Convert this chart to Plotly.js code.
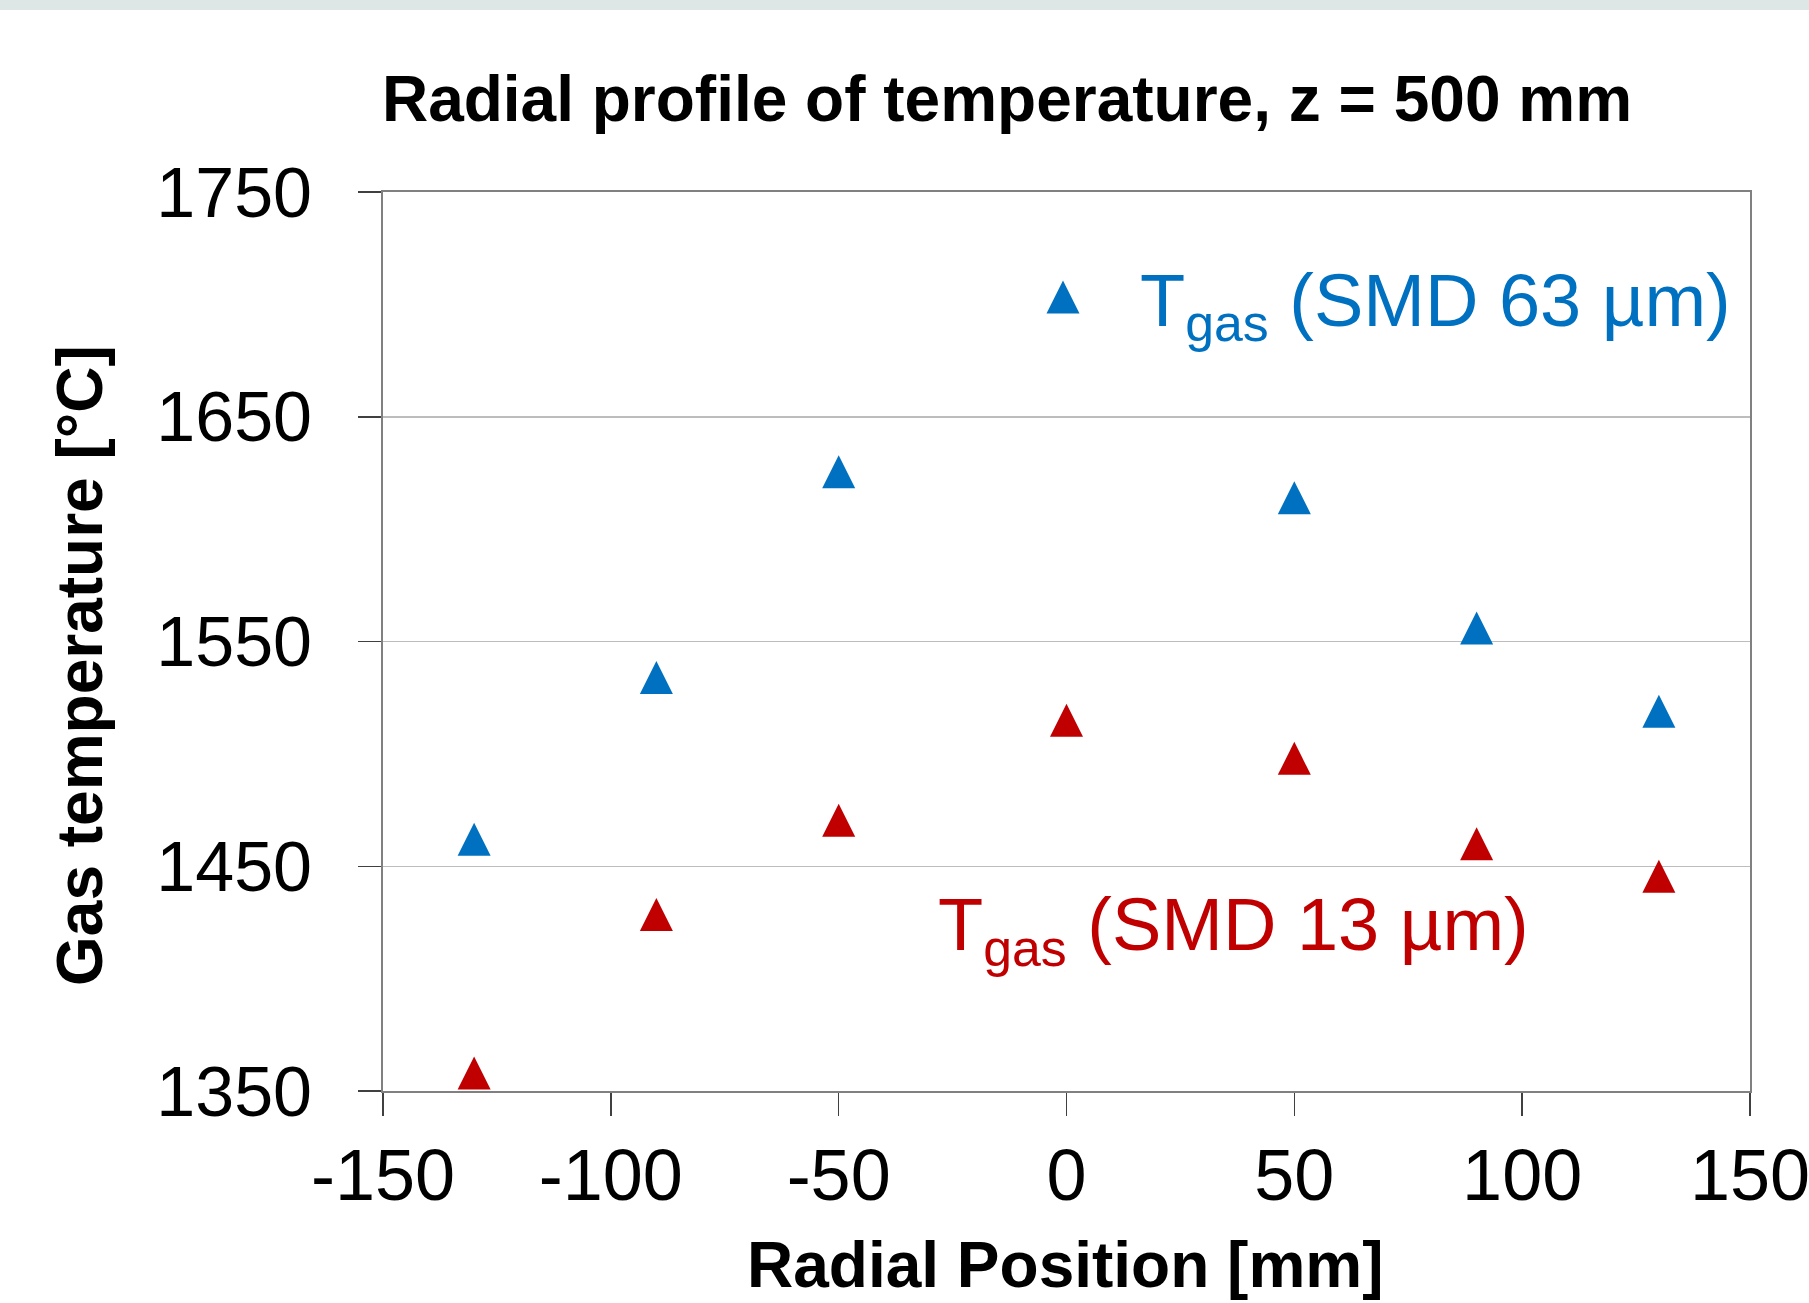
<!DOCTYPE html>
<html>
<head>
<meta charset="utf-8">
<script src="https://cdn.plot.ly/plotly-3.0.1.min.js"></script>
<style>
html,body{margin:0;padding:0;background:#fff;overflow:hidden}
#band{position:absolute;left:0;top:0;width:1809px;height:10px;background:#dde8e6;z-index:10}
#chart{width:1809px;height:1303px}
</style>
</head>
<body>
<div id="band"></div>
<div id="chart"></div>
<script>
// ---- data ----
const radialPos63 = [-130, -90, -50, 50, 90, 130];
const tempSMD63   = [1462, 1534, 1625.5, 1614, 1556, 1519];
const radialPos13 = [-130, -90, -50, 0, 50, 90, 130];
const tempSMD13   = [1358, 1428.5, 1470.5, 1515, 1498, 1460, 1445.5];
const xTickVals = [-150, -100, -50, 0, 50, 100, 150];
const xTickText = ['-150', '-100', '-50', '0', '50', '100', '150'];
const yTickVals = [1350, 1450, 1550, 1650, 1750];
const yTickText = ['1350', '1450', '1550', '1650', '1750'];
const label63 = 'T<sub>gas</sub> (SMD 63 µm)';
const label13 = 'T<sub>gas</sub> (SMD 13 µm)';
const chartTitle = 'Radial profile of temperature, z = 500 mm';
const xTitle = 'Radial Position [mm]';
const yTitle = 'Gas temperature [°C]';

const BLUE = '#0070c0', RED = '#c00000';
const FONT = 'Liberation Sans, Arial, sans-serif';

const traces = [
  {x: radialPos63, y: tempSMD63, type: 'scatter', mode: 'markers', name: label63,
   marker: {symbol: 'triangle-up', size: 28, color: BLUE}, showlegend: true},
  {x: radialPos13, y: tempSMD13, type: 'scatter', mode: 'markers', name: label13,
   marker: {symbol: 'triangle-up', size: 28, color: RED}, showlegend: false}
];

const W = 1809, H = 1303;
const mL = 383, mR = 59, mT = 191.5, mB = 211.5;
const pw = W - mL - mR, ph = H - mT - mB;
const px2x = p => (p - mL) / pw;
const px2y = p => (H - mB - p) / ph;

const layout = {
  width: W, height: H,
  margin: {l: mL, r: mR, t: mT, b: mB, pad: 0},
  paper_bgcolor: '#ffffff', plot_bgcolor: '#ffffff',
  font: {family: FONT, color: '#000'},
  title: {text: chartTitle, font: {family: FONT, size: 64, weight: 'bold', color: '#000'},
          xref: 'container', yref: 'container', x: 1007 / W, y: 1 - 99 / H,
          xanchor: 'center', yanchor: 'middle'},
  xaxis: {range: [-150, 150], tickmode: 'array', tickvals: xTickVals, ticktext: xTickText,
          ticks: 'outside', ticklen: 23, tickwidth: 1.5, tickcolor: '#404040',
          showline: true, linecolor: '#808080', linewidth: 2, mirror: true,
          showgrid: false, zeroline: false, ticklabelstandoff: -2,
          ticklabeloverflow: 'allow',
          tickfont: {family: FONT, size: 72, color: '#000'}},
  yaxis: {range: [1350, 1750], tickmode: 'array', tickvals: yTickVals, ticktext: yTickText,
          ticks: 'outside', ticklen: 23, tickwidth: 1.5, tickcolor: '#404040',
          showline: true, linecolor: '#808080', linewidth: 2, mirror: true,
          showgrid: true, gridcolor: '#bdbdbd', gridwidth: 1.5, zeroline: false,
          ticklabelstandoff: 32,
          tickfont: {family: FONT, size: 70, color: '#000'}},
  showlegend: true,
  legend: {x: px2x(986), y: px2y(242), xanchor: 'left', yanchor: 'top',
           bgcolor: 'rgba(0,0,0,0)', borderwidth: 0, itemwidth: 144,
           font: {family: FONT, size: 74, color: BLUE}},
  annotations: [
    {text: label13, xref: 'paper', yref: 'paper', x: px2x(936), y: px2y(930),
     xanchor: 'left', yanchor: 'middle', showarrow: false,
     font: {family: FONT, size: 74, color: RED}},
    {text: yTitle, xref: 'paper', yref: 'paper', x: px2x(80), y: px2y(666),
     xanchor: 'center', yanchor: 'middle', showarrow: false, textangle: -90,
     font: {family: FONT, size: 64, weight: 'bold', color: '#000'}},
    {text: xTitle, xref: 'paper', yref: 'paper', x: px2x(1065.5), y: px2y(1266),
     xanchor: 'center', yanchor: 'middle', showarrow: false,
     font: {family: FONT, size: 64, weight: 'bold', color: '#000'}}
  ]
};

const gd = document.getElementById('chart');
Plotly.newPlot(gd, traces, layout, {displayModeBar: false, staticPlot: true}).then(() => {
  // Excel-style triangle: 33x33 isoceles centred on the data point
  const tri = 'M-16.5,16.5H16.5L0,-16.5Z';
  gd.querySelectorAll('.scatterlayer path.point').forEach(p => p.setAttribute('d', tri));
  gd.querySelectorAll('.legend path.scatterpts').forEach(p => p.setAttribute('d', tri));
});
</script>
</body>
</html>
